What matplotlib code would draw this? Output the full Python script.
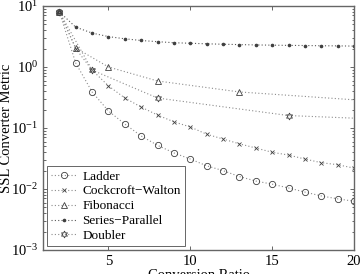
import matplotlib
matplotlib.use("Agg")
import matplotlib.pyplot as plt

plt.rcParams['font.family'] = ['Liberation Serif', 'DejaVu Serif']
plt.rcParams['mathtext.fontset'] = 'stix'

# conversion ratios
n = list(range(2, 21))

# valores
ladder = [8.0, 1.16, 0.39, 0.19, 0.116, 0.074, 0.052, 0.039, 0.031, 0.024,
          0.020, 0.016, 0.0135, 0.012, 0.0104, 0.0089, 0.0077, 0.0069, 0.0063]
cockcroft = [8.0, 2.0, 0.89, 0.49, 0.31, 0.22, 0.163, 0.126, 0.104, 0.079,
             0.066, 0.055, 0.047, 0.040, 0.036, 0.031, 0.027, 0.025, 0.022]
series_par = [8.0, 4.5, 3.6, 3.15, 2.9, 2.72, 2.6, 2.5, 2.45, 2.4,
              2.36, 2.33, 2.3, 2.28, 2.26, 2.25, 2.23, 2.22, 2.2]
fib_n = [2, 3, 5, 8, 13, 20]
fibonacci = [8.0, 2.05, 1.0, 0.59, 0.39, 0.29]
dbl_n = [2, 4, 8, 16, 20]
doubler = [8.0, 0.89, 0.31, 0.16, 0.145]

fig = plt.figure(figsize=(3.6, 2.74), dpi=100)
ax = fig.add_axes([43 / 360, 24 / 274, 311 / 360, 244 / 274])

ls = (0, (1, 2))
lc = '0.55'
mc = '0.25'
common = dict(color=lc, linestyle=ls, linewidth=0.8, markeredgecolor=mc,
              markeredgewidth=0.6, markerfacecolor='none')

ax.plot(n, ladder, marker='o', markersize=4.5, label='Ladder', **common)
ax.plot(n, cockcroft, marker='x', markersize=3.5, label='Cockcroft\u2212Walton', **common)
ax.plot(fib_n, fibonacci, marker='^', markersize=5, markevery=[0, 1, 2, 3, 4],
        label='Fibonacci', **common)
ax.plot(n, series_par, marker='.', markersize=3.2, color='0.35', linestyle=ls,
        linewidth=0.8, markeredgecolor=mc, markerfacecolor=mc, label='Series\u2212Parallel')
ax.plot(dbl_n, doubler, marker=(6, 1, 0), markersize=5, markevery=[0, 1, 2, 3],
        label='Doubler', **common)

ax.set_yscale('log')
ax.set_xlim(1, 20)
ax.set_ylim(1e-3, 1e1)
ax.set_xticks([5, 10, 15, 20])
ax.tick_params(which='both', direction='in', top=True, right=True, labelsize=10.5,
               color='0.3', width=0.6)
ax.tick_params(which='major', length=3)
ax.tick_params(which='minor', length=1.8)
for s in ax.spines.values():
    s.set_color('0.4')
    s.set_linewidth(1.0)

ax.set_xlabel('Conversion Ratio', fontsize=10.5, labelpad=1)
ax.set_ylabel('SSL Converter Metric', fontsize=10.5)
ax.yaxis.set_label_coords(-0.098, 0.5)

leg = ax.legend(loc='lower left', fontsize=9.5, fancybox=False, edgecolor='0.3',
                framealpha=1, borderaxespad=0.3, handlelength=2.0,
                labelspacing=0.2, borderpad=0.3, handletextpad=0.4)
leg.get_frame().set_linewidth(0.6)

fig.savefig('out.png', dpi=100)
